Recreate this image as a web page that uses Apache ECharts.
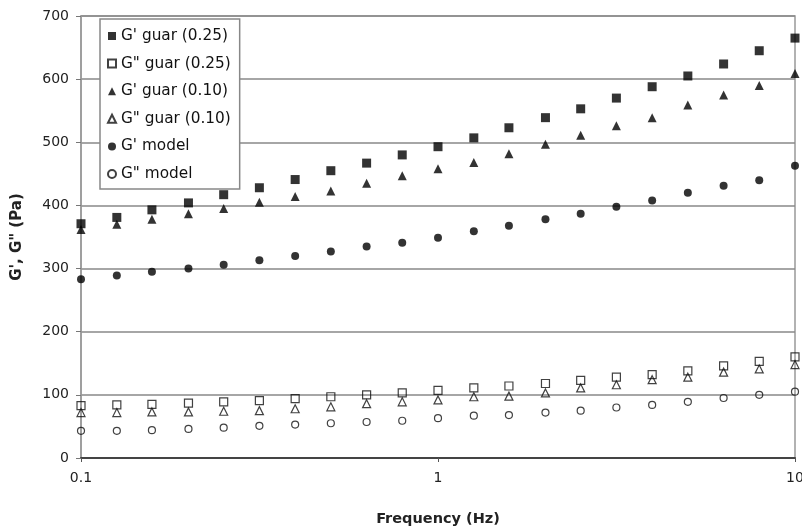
<!DOCTYPE html>
<html>
<head>
<meta charset="utf-8">
<script src="https://cdn.jsdelivr.net/npm/echarts@6/dist/echarts.min.js"></script>
<style>
html,body{margin:0;padding:0;background:#fff;}
#chart{width:802px;height:529px;}
</style>
</head>
<body>
<div id="chart"></div>
<script>
// Frequencies (Hz), 10 points per decade
var frequency = [0.1, 0.126, 0.158, 0.2, 0.251, 0.316, 0.398, 0.501, 0.631, 0.794, 1, 1.26, 1.58, 2, 2.51, 3.16, 3.98, 5.01, 6.31, 7.94, 10];
var gp_guar025  = [371, 381, 393, 404, 417, 428, 441, 455, 467, 480, 493, 507, 523, 539, 553, 570, 588, 605, 624, 645, 665];
var gpp_guar025 = [83, 84, 85, 87, 89, 91, 94, 97, 100, 103, 107, 111, 114, 118, 123, 128, 132, 138, 146, 153, 160];
var gp_guar010  = [362, 370, 378, 387, 395, 405, 414, 423, 435, 447, 458, 468, 482, 497, 511, 526, 539, 559, 575, 590, 609];
var gpp_guar010 = [72, 72, 73, 73, 74, 75, 78, 81, 86, 89, 92, 97, 98, 103, 111, 116, 124, 128, 136, 141, 148];
var gp_model    = [283, 289, 295, 300, 306, 313, 320, 327, 335, 341, 349, 359, 368, 378, 387, 398, 408, 420, 431, 440, 463];
var gpp_model   = [43, 43, 44, 46, 48, 51, 53, 55, 57, 59, 63, 67, 68, 72, 75, 80, 84, 89, 95, 100, 105];
var yTicks = [0, 100, 200, 300, 400, 500, 600, 700];
var xTickLabels = ['0.1', '1', '10'];
var seriesNames = ["G' guar (0.25)", 'G" guar (0.25)', "G' guar (0.10)", 'G" guar (0.10)', "G' model", 'G" model'];

function pairs(vals){ return frequency.map(function(f,i){ return [f, vals[i]]; }); }

var chart = echarts.init(document.getElementById('chart'), null, {renderer:'canvas'});
var font = '"DejaVu Sans", Arial, sans-serif';
function filled(name, vals, symbol, size){
  return {name:name, type:'scatter', data:pairs(vals), symbol:symbol, symbolSize:size,
    itemStyle:{color:'#000'}, z:3};
}
function open(name, vals, symbol, size){
  return {name:name, type:'scatter', data:pairs(vals), symbol:symbol, symbolSize:size,
    itemStyle:{color:'rgba(255,255,255,0)', borderColor:'#111', borderWidth:1.2}, z:3};
}
chart.setOption({
  animation:false,
  backgroundColor:'#fff',
  grid:{left:81, right:7, top:16, bottom:71, outerBoundsMode:'none', containLabel:false,
    show:true, borderColor:'#999', borderWidth:1.5, backgroundColor:'transparent'},
  legend:{
    orient:'vertical', left:100, top:19, padding:[9,9,7,7],
    backgroundColor:'#fff', borderColor:'#888', borderWidth:1.5,
    itemWidth:8, itemHeight:8, itemGap:11.6,
    textStyle:{fontFamily:font, fontSize:15.3, color:'#111', lineHeight:16},
    data:seriesNames
  },
  xAxis:{
    type:'log', logBase:10, min:0.1, max:10,
    name:'Frequency (Hz)', nameLocation:'middle', nameGap:54,
    nameTextStyle:{fontFamily:font, fontSize:14.5, fontWeight:'bold', color:'#222'},
    axisLine:{show:true, onZero:false, lineStyle:{color:'#444', width:2}},
    axisTick:{show:true, length:4, lineStyle:{color:'#555'}},
    minorTick:{show:false},
    splitLine:{show:false},
    axisLabel:{fontFamily:font, fontSize:14, color:'#222', margin:13,
      formatter:function(v){ var idx = Math.round(Math.log10(v))+1; return xTickLabels[idx] !== undefined ? xTickLabels[idx] : String(v); }}
  },
  yAxis:{
    type:'value', min:yTicks[0], max:yTicks[yTicks.length-1], interval:100,
    name:"G', G\" (Pa)", nameLocation:'middle', nameGap:56,
    nameTextStyle:{fontFamily:font, fontSize:15, fontWeight:'bold', color:'#222'},
    axisLine:{show:true, lineStyle:{color:'#999', width:1.5}},
    axisTick:{show:true, length:5, lineStyle:{color:'#777'}},
    splitLine:{show:true, lineStyle:{color:'#888', width:1.5}},
    axisLabel:{fontFamily:font, fontSize:14, color:'#222', margin:12}
  },
  series:[
    filled(seriesNames[0], gp_guar025, 'rect', 9),
    open(seriesNames[1], gpp_guar025, 'rect', 8),
    filled(seriesNames[2], gp_guar010, 'triangle', 9),
    open(seriesNames[3], gpp_guar010, 'triangle', 8),
    filled(seriesNames[4], gp_model, 'circle', 8),
    open(seriesNames[5], gpp_model, 'circle', 7)
  ]
});
</script>
</body>
</html>
